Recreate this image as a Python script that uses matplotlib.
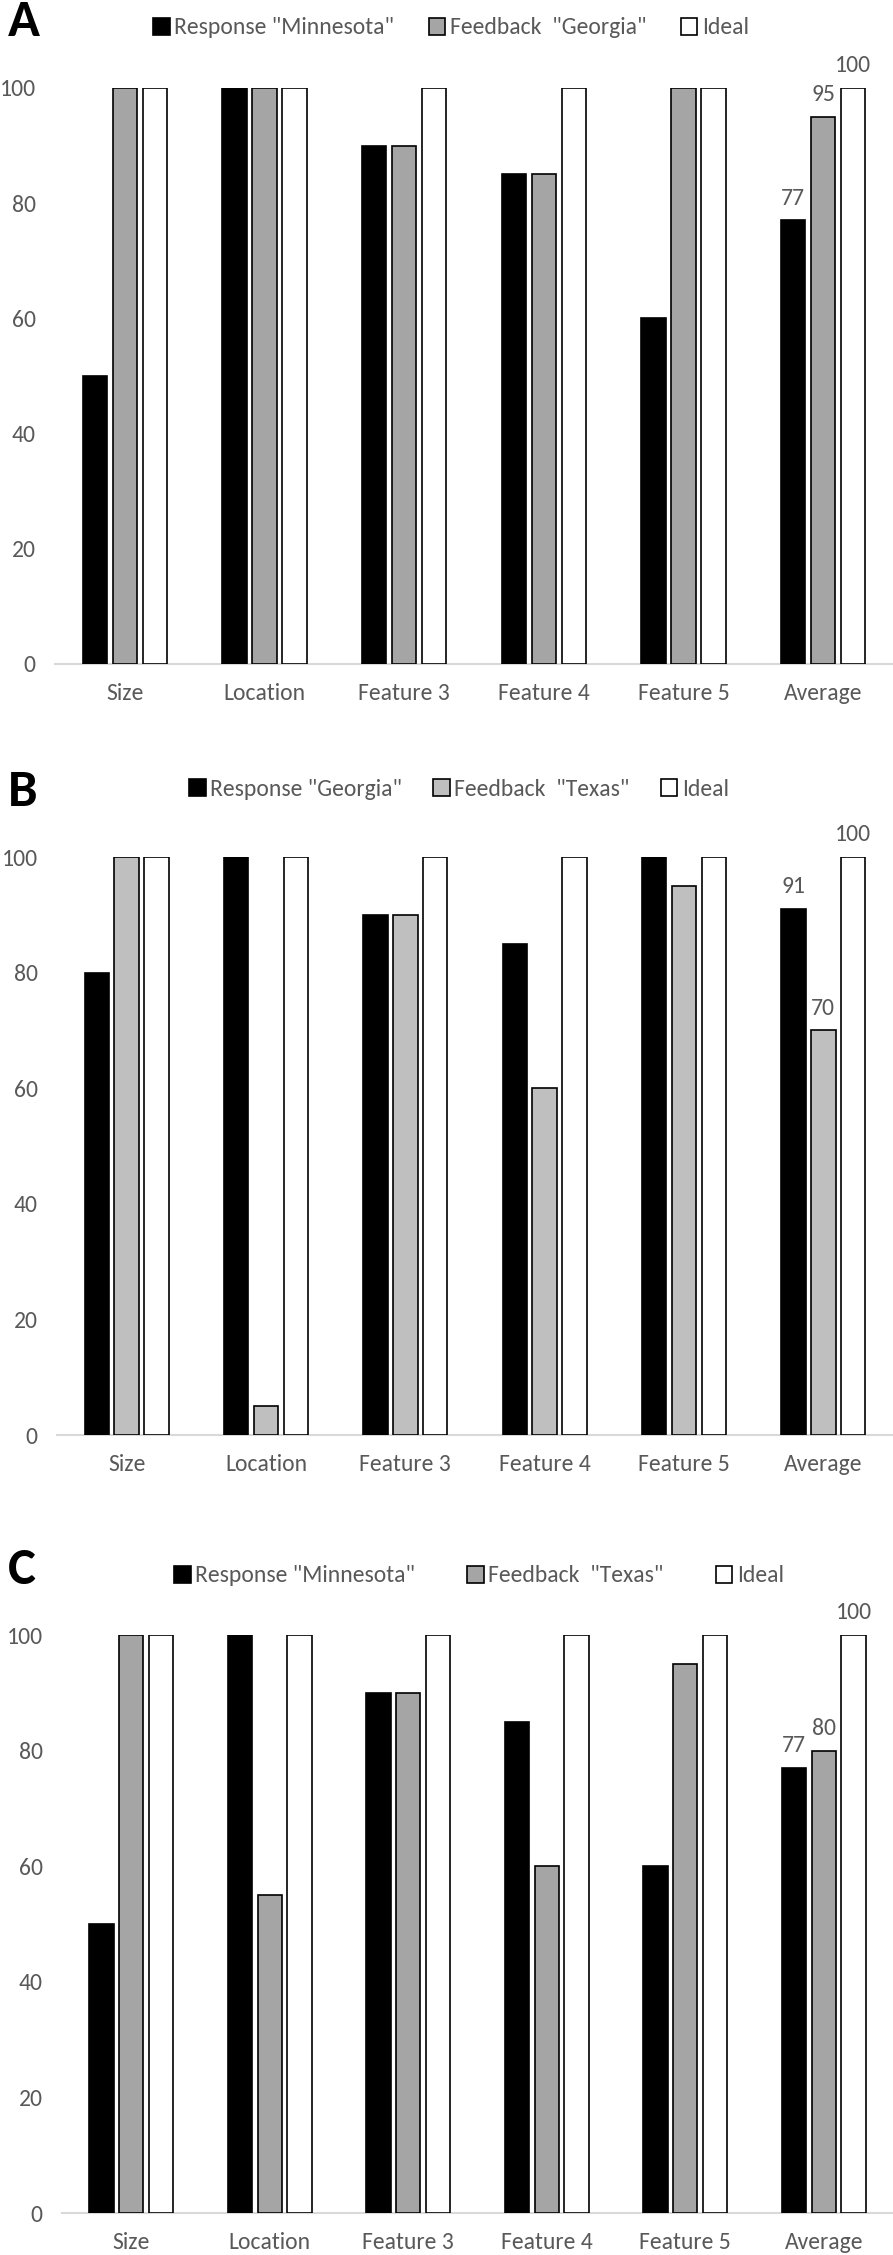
import numpy as np
import matplotlib
matplotlib.use('Agg')
import matplotlib.pyplot as plt
from matplotlib.patches import Patch

plt.rcParams['font.family'] = ['Carlito', 'DejaVu Sans']

categories = ['Size', 'Location', 'Feature 3', 'Feature 4', 'Feature 5', 'Average']

# panel A
a_labels = ['Response "Minnesota"', 'Feedback  "Georgia"', 'Ideal']
a_response = [50, 100, 90, 85, 60, 77]
a_feedback = [100, 100, 90, 85, 100, 95]
a_ideal = [100, 100, 100, 100, 100, 100]

# panel B
b_labels = ['Response "Georgia"', 'Feedback  "Texas"', 'Ideal']
b_response = [80, 100, 90, 85, 100, 91]
b_feedback = [100, 5, 90, 60, 95, 70]
b_ideal = [100, 100, 100, 100, 100, 100]

# panel C
c_labels = ['Response "Minnesota"', 'Feedback  "Texas"', 'Ideal']
c_response = [50, 100, 90, 85, 60, 77]
c_feedback = [100, 55, 90, 60, 95, 80]
c_ideal = [100, 100, 100, 100, 100, 100]

TXT = '#595959'
FS = 17

fig = plt.figure(figsize=(8.93, 22.55), dpi=100)
W, H = 893.0, 2255.0


def panel(letter, rect_px, series, labels, gray, legend_y, legend_x, colspace):
    left, top, bottom = rect_px
    ax = fig.add_axes([left / W, (H - bottom) / H, (W - left) / W, (bottom - top) / H])
    x = np.arange(len(categories))
    pitch, width = 0.215, 0.175
    colors = ['black', gray, 'white']
    handles = []
    for i, (vals, col) in enumerate(zip(series, colors)):
        pos = x + (i - 1) * pitch
        ax.bar(pos, vals, width=width, color=col, edgecolor='black', linewidth=1.2, zorder=3)
        # value labels only on the average group
        ax.text(pos[-1], vals[-1] + 2, str(vals[-1]), ha='center', va='bottom',
                fontsize=FS, color=TXT, clip_on=False)
        handles.append(Patch(facecolor=col, edgecolor='black', linewidth=1.2, label=labels[i]))
    ax.set_xlim(-0.5, len(categories) - 0.5)
    ax.set_ylim(0, 100)
    ax.set_yticks([0, 20, 40, 60, 80, 100])
    ax.set_xticks(x)
    ax.set_xticklabels(categories)
    for s in ['top', 'right', 'left']:
        ax.spines[s].set_visible(False)
    ax.spines['bottom'].set_color('#d9d9d9')
    ax.spines['bottom'].set_linewidth(1.5)
    ax.tick_params(axis='both', length=0, colors=TXT, labelsize=FS)
    ax.tick_params(axis='x', pad=14)
    ax.tick_params(axis='y', pad=14)
    fig.legend(handles=handles, loc='center', bbox_to_anchor=(legend_x / W, 1 - legend_y / H),
               ncol=3, frameon=False, fontsize=FS, handlelength=0.7, handleheight=0.7,
               handletextpad=0.2, columnspacing=colspace, labelcolor=TXT)
    fig.text(8 / W, 1 - (top - 66) / H, letter, fontsize=38, fontweight='bold',
             ha='left', va='center', color='black')
    return ax


panel('A', (55, 88, 664), [a_response, a_feedback, a_ideal], a_labels, '#a5a5a5', 28, 451, 1.45)
panel('B', (57, 857, 1435), [b_response, b_feedback, b_ideal], b_labels, '#bfbfbf', 789, 459, 1.3)
panel('C', (62, 1635, 2213), [c_response, c_feedback, c_ideal], c_labels, '#a5a5a5', 1576, 479, 2.2)

fig.savefig('out.png', dpi=100)
